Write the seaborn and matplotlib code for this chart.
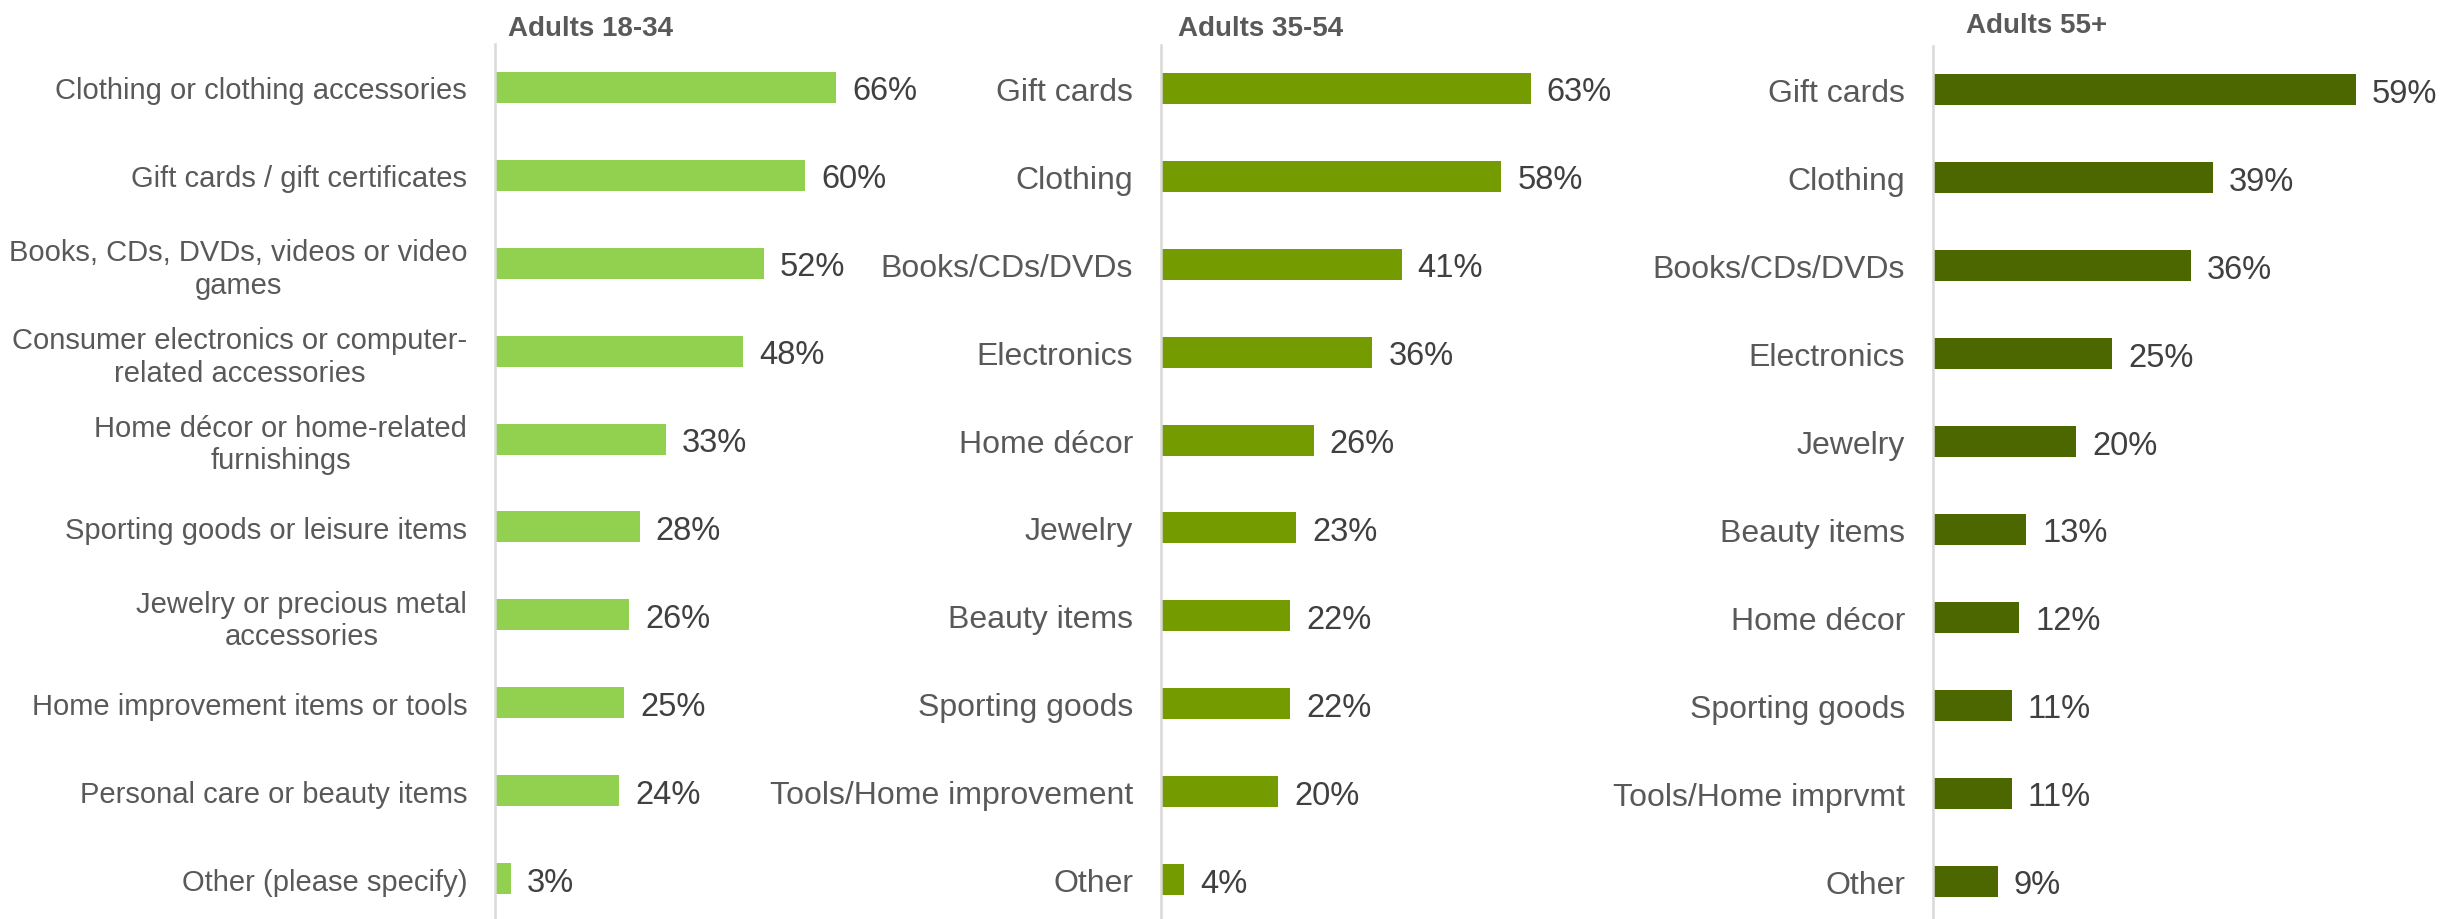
import matplotlib
matplotlib.use("Agg")
import matplotlib.pyplot as plt
import seaborn as sns
import pandas as pd

# Survey: items purchased, by age group (share of respondents, %)
cats_young = [
    "Clothing or clothing accessories",
    "Gift cards / gift certificates",
    "Books, CDs, DVDs, videos or video\ngames",
    "Consumer electronics or computer-\nrelated accessories",
    "Home décor or home-related\nfurnishings",
    "Sporting goods or leisure items",
    "Jewelry or precious metal\naccessories",
    "Home improvement items or tools",
    "Personal care or beauty items",
    "Other (please specify)",
]
vals_young = [66, 60, 52, 48, 33, 28, 26, 25, 24, 3]

cats_mid = [
    "Gift cards", "Clothing", "Books/CDs/DVDs", "Electronics", "Home décor",
    "Jewelry", "Beauty items", "Sporting goods", "Tools/Home improvement", "Other",
]
vals_mid = [63, 58, 41, 36, 26, 23, 22, 22, 20, 4]

cats_old = [
    "Gift cards", "Clothing", "Books/CDs/DVDs", "Electronics", "Jewelry",
    "Beauty items", "Home décor", "Sporting goods", "Tools/Home imprvmt", "Other",
]
vals_old = [59, 39, 36, 25, 20, 13, 12, 11, 11, 9]

titles = ["Adults 18-34", "Adults 35-54", "Adults 55+"]
colors = ["#92D050", "#749B00", "#4C6600"]

sns.set_theme(style="white")
plt.rcParams["font.family"] = ["Liberation Sans", "DejaVu Sans"]

W, H = 2445, 920
fig = plt.figure(figsize=(W / 100, H / 100), dpi=100)

# panel geometry in pixels: left edge, px per percent, top edge, title x, title y,
# category label size
panels = [
    (cats_young, vals_young, 495, 5.17, 44.5, 508, 29, 21),
    (cats_mid, vals_mid, 1161, 5.87, 45.5, 1178, 29, 23),
    (cats_old, vals_old, 1933, 7.17, 47.0, 1966, 26, 23),
]
row_h = 87.9
xmax = 70

for (cats, vals, left, ppp, top, tx, ty, fs), title, col in zip(panels, titles, colors):
    width_px = ppp * xmax
    height_px = row_h * len(cats)
    ax = fig.add_axes([left / W, 1 - (top + height_px) / H, width_px / W, height_px / H])
    df = pd.DataFrame({"item": cats, "pct": vals})
    sns.barplot(data=df, x="pct", y="item", color=col, width=0.353,
                linewidth=0, saturation=1, ax=ax)
    ax.set_xlim(0, xmax)
    ax.set_ylim(len(cats) - 0.5, -0.5)
    texts = ax.bar_label(ax.containers[0], labels=[f"{v}%" for v in vals],
                         padding=11.5, fontsize=23.5, color="#404040")
    for t in texts:
        t.set_va("center_baseline")
    for s in ["top", "right", "bottom"]:
        ax.spines[s].set_visible(False)
    ax.spines["left"].set_color("#D9D9D9")
    ax.spines["left"].set_linewidth(1.8)
    ax.set_xticks([])
    ax.set_xlabel("")
    ax.set_ylabel("")
    ax.tick_params(axis="y", length=0, pad=20, labelsize=fs, labelcolor="#595959")
    for lab in ax.get_yticklabels():
        lab.set_multialignment("center")
    ax.patch.set_alpha(0)
    fig.text(tx / W, 1 - ty / H, title, ha="left", va="center",
             fontsize=20, fontweight="bold", color="#595959")

fig.savefig("out.png", dpi=100)
